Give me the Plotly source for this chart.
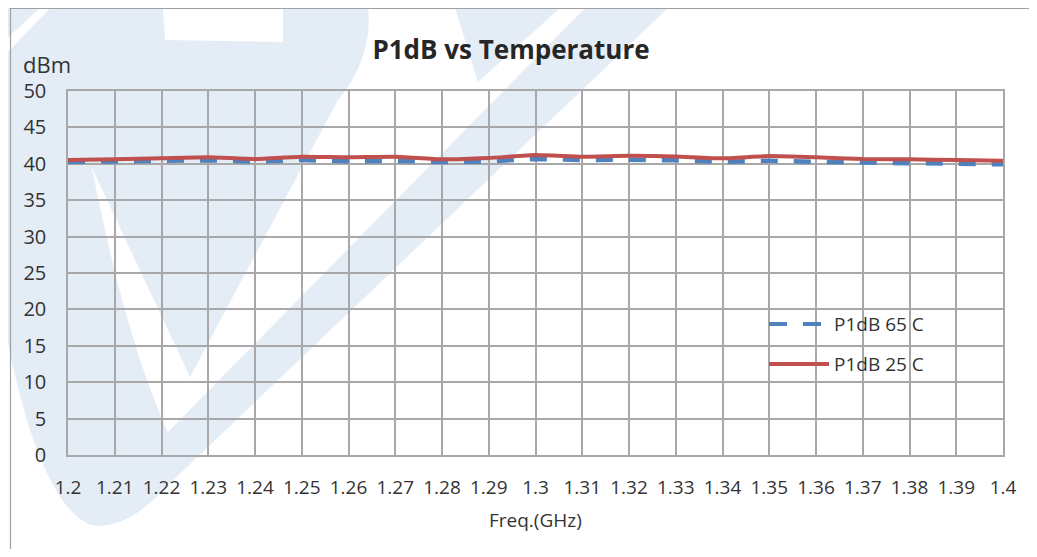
import plotly.graph_objects as go

# ---------------- data ----------------
freq = [1.20, 1.21, 1.22, 1.23, 1.24, 1.25, 1.26, 1.27, 1.28, 1.29, 1.30,
        1.31, 1.32, 1.33, 1.34, 1.35, 1.36, 1.37, 1.38, 1.39, 1.40]
freq_labels = ["1.2", "1.21", "1.22", "1.23", "1.24", "1.25", "1.26", "1.27", "1.28", "1.29", "1.3",
               "1.31", "1.32", "1.33", "1.34", "1.35", "1.36", "1.37", "1.38", "1.39", "1.4"]
p1db_65c = [40.25, 40.30, 40.38, 40.48, 40.30, 40.52, 40.34, 40.40, 40.25, 40.34, 40.66,
            40.52, 40.55, 40.48, 40.25, 40.43, 40.25, 40.16, 40.07, 39.93, 39.93]
p1db_25c = [40.52, 40.62, 40.75, 40.89, 40.66, 40.98, 40.90, 40.98, 40.62, 40.80, 41.20,
            40.98, 41.10, 41.00, 40.75, 41.07, 40.90, 40.66, 40.62, 40.52, 40.43]
y_ticks = [0, 5, 10, 15, 20, 25, 30, 35, 40, 45, 50]
series_names = ["P1dB 65 C", "P1dB 25 C"]

# ---------------- geometry (window pixels; page body has an 8px margin) ----------------
OFF = 8
W, H = 1037 - 2 * OFF, 557 - 2 * OFF
L, R, T, B = 68, 1003, 91, 455          # plot area in window pixels
FONT = "Open Sans"
TXT = "#333333"
BLUE = "#4f81bd"
RED = "#c0504d"
GRID = "#a8a8a8"
WM = "rgba(205,222,239,0.55)"


def px(x):
    return (x - L) / (R - L)


def py(y):
    return (B - y) / (B - T)


def path(cmds):
    out = []
    for c in cmds:
        if isinstance(c, str):
            out.append(c)
        else:
            out.append(f"{px(c[0]):.5f},{py(c[1]):.5f}")
    return " ".join(out)


fig = go.Figure()
fig.add_trace(go.Scatter(x=freq, y=p1db_65c, name=series_names[0], mode="lines",
                         line=dict(color=BLUE, width=4.5, dash="17px,16px")))
fig.add_trace(go.Scatter(x=freq, y=p1db_25c, name=series_names[1], mode="lines",
                         line=dict(color=RED, width=4, shape="spline", smoothing=0.4)))

shapes = []
# watermark (light blue logo in the background)
wm_paths = [
    ["M", (0, 8), "L", (40, 8), "L", (0, 45), "Z"],
    ["M", (0, 60), "L", (50, 8), "L", (163, 8), "L", (165, 40), "L", (283, 42),
     "C", (310, 45), (330, 70), (338, 100),
     "L", (190, 377), "L", (92, 168),
     "C", (110, 260), (135, 360), (168, 432),
     "L", (585, 8), "L", (668, 8), "L", (165, 488),
     "C", (135, 522), (105, 530), (88, 524),
     "C", (50, 505), (20, 420), (0, 300), "Z"],
    ["M", (283, 8), "L", (368, 8), "C", (372, 40), (360, 75), (338, 100),
     "C", (330, 70), (310, 45), (283, 42), "Z"],
    ["M", (455, 8), "L", (560, 8), "L", (478, 82), "Z"],
]
for p in wm_paths:
    shapes.append(dict(type="path", xref="paper", yref="paper", path=path(p),
                       fillcolor=WM, line=dict(width=0), layer="below"))

# chart frame
shapes.append(dict(type="rect", xref="paper", yref="paper",
                   x0=px(10.5), x1=px(1060), y0=py(600), y1=py(8.5),
                   line=dict(color="#a0a0a0", width=1.2), fillcolor="rgba(0,0,0,0)",
                   layer="below"))

# legend (drawn like the Excel legend)
leg_x0, leg_x1 = 769, 829
leg_y = [324, 364]
shapes.append(dict(type="line", xref="paper", yref="paper",
                   x0=px(leg_x0), x1=px(leg_x1), y0=py(leg_y[0]), y1=py(leg_y[0]),
                   line=dict(color=BLUE, width=4, dash="18px,16px")))
shapes.append(dict(type="line", xref="paper", yref="paper",
                   x0=px(leg_x0), x1=px(leg_x1), y0=py(leg_y[1]), y1=py(leg_y[1]),
                   line=dict(color=RED, width=4)))

annotations = [
    dict(text=series_names[0], xref="paper", yref="paper", x=px(832), y=py(leg_y[0]),
         xanchor="left", yanchor="middle", showarrow=False,
         font=dict(family=FONT, size=19, color=TXT)),
    dict(text=series_names[1], xref="paper", yref="paper", x=px(832), y=py(leg_y[1]),
         xanchor="left", yanchor="middle", showarrow=False,
         font=dict(family=FONT, size=19, color=TXT)),
    dict(text="dBm", xref="paper", yref="paper", x=px(21), y=py(64),
         xanchor="left", yanchor="middle", showarrow=False,
         font=dict(family=FONT, size=22, color=TXT)),
    dict(text="Freq.(GHz)", xref="paper", yref="paper", x=px(535), y=py(520),
         xanchor="center", yanchor="middle", showarrow=False,
         font=dict(family=FONT, size=19, color=TXT)),
]

fig.update_layout(
    width=W, height=H,
    margin=dict(l=L - OFF, r=W - (R - OFF), t=T - OFF, b=H - (B - OFF)),
    paper_bgcolor="white", plot_bgcolor="rgba(0,0,0,0)",
    showlegend=False,
    title=dict(text="<b>P1dB vs Temperature</b>", x=px(511), xref="paper", xanchor="center",
               y=1 - (50 - OFF) / H, yanchor="middle",
               font=dict(family=FONT, size=26, color="#262626")),
    shapes=shapes, annotations=annotations,
    font=dict(family=FONT, color=TXT),
)
fig.update_xaxes(range=[freq[0], freq[-1]], tickvals=freq, ticktext=freq_labels,
                 showgrid=True, gridcolor=GRID, gridwidth=1.5,
                 showline=True, linecolor=GRID, linewidth=1.5, mirror=True,
                 ticks="outside", ticklen=14, tickcolor="rgba(0,0,0,0)",
                 tickfont=dict(family=FONT, size=19, color=TXT),
                 zeroline=False)
fig.update_yaxes(range=[0, 50], tickvals=y_ticks,
                 showgrid=True, gridcolor=GRID, gridwidth=1.5,
                 showline=True, linecolor=GRID, linewidth=1.5, mirror=True,
                 ticks="outside", ticklen=16, tickcolor="rgba(0,0,0,0)",
                 tickfont=dict(family=FONT, size=20, color=TXT),
                 zeroline=False)

fig.write_html("out.html")
